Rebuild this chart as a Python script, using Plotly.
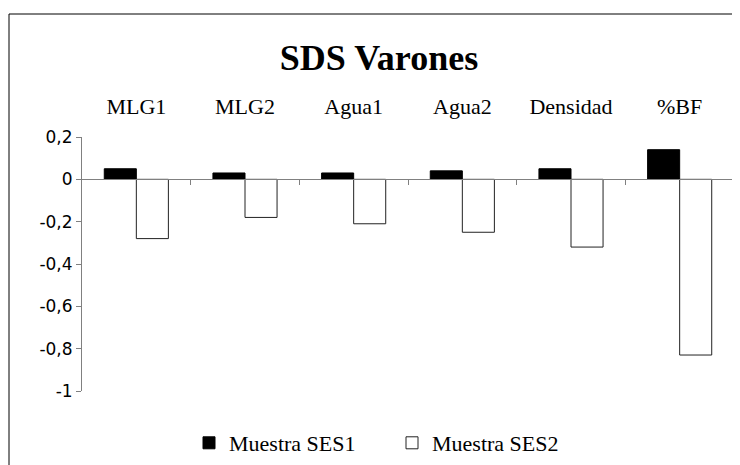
import plotly.graph_objects as go

categories = ["MLG1", "MLG2", "Agua1", "Agua2", "Densidad", "%BF"]
ses1 = [0.05, 0.03, 0.03, 0.04, 0.05, 0.14]
ses2 = [-0.28, -0.18, -0.21, -0.25, -0.32, -0.83]
series_names = ["Muestra SES1", "Muestra SES2"]
y_tickvals = [0.2, 0, -0.2, -0.4, -0.6, -0.8, -1]
y_ticktext = ["0,2", "0", "-0,2", "-0,4", "-0,6", "-0,8", "-1"]
title_text = "SDS Varones"

# page body has an 8px margin; lay out in screen coordinates minus that offset
OFF = 8
VW, VH = 740, 465
W, H = VW - OFF, VH - OFF
plot_l, plot_r, plot_t, plot_b = 82 - OFF, 734 - OFF, 137 - OFF, 391 - OFF
ml, mr, mt, mb = plot_l, W - plot_r, plot_t, H - plot_b
pw = W - ml - mr
ph = H - mt - mb
ymin, ymax = -1.0, 0.2

serif = "Liberation Serif"
sans = "DejaVu Sans"

fig = go.Figure()
fig.add_trace(go.Bar(
    x=categories, y=ses1, name=series_names[0],
    marker=dict(color="#000000", line=dict(color="#000000", width=1)),
))
fig.add_trace(go.Bar(
    x=categories, y=ses2, name=series_names[1],
    marker=dict(color="#ffffff", line=dict(color="#222222", width=1)),
))
# empty helper trace so the zero-line axis (x2) exists
fig.add_trace(go.Scatter(x=[], y=[], xaxis="x2", yaxis="y", showlegend=False,
                         hoverinfo="skip"))

fig.update_layout(
    width=W, height=H, autosize=False,
    margin=dict(l=ml, r=mr, t=mt, b=mb, pad=0, autoexpand=False),
    paper_bgcolor="white", plot_bgcolor="white",
    barmode="group", bargap=0.41, bargroupgap=0,
    title=dict(text=title_text, x=(379 - OFF) / W, xref="container",
               xanchor="center", y=1 - (57 - OFF) / H, yref="container",
               yanchor="middle", automargin=False,
               font=dict(family=serif, size=36, color="black", weight="bold")),
    xaxis=dict(type="category", categoryarray=categories, side="top",
               range=[-0.5, len(categories) - 0.5], automargin=False,
               showline=False, showgrid=False, zeroline=False, ticks="",
               ticklabelstandoff=18,
               tickfont=dict(family=serif, size=22, color="black")),
    xaxis2=dict(overlaying="x", anchor="free",
                position=(0 - ymin) / (ymax - ymin),
                range=[-0.5, len(categories) - 0.5],
                tickvals=[i + 0.5 for i in range(len(categories))],
                showticklabels=False, ticks="outside", ticklen=5,
                tickcolor="#808080", tickwidth=1,
                showline=True, linecolor="#808080", linewidth=1,
                showgrid=False, zeroline=False, side="bottom"),
    yaxis=dict(range=[ymin, ymax], tickvals=y_tickvals, ticktext=y_ticktext,
               showline=True, linecolor="#808080", linewidth=1,
               ticks="outside", ticklen=5, tickcolor="#808080",
               showgrid=False, zeroline=False, automargin=False,
               tickfont=dict(family=sans, size=17, color="black")),
    legend=dict(orientation="h", x=(392 - OFF - ml) / pw, xanchor="center",
                y=(plot_b - (443 - OFF)) / ph, yanchor="middle",
                font=dict(family=serif, size=22, color="black"),
                entrywidth=158, entrywidthmode="pixels",
                bgcolor="rgba(0,0,0,0)"),
    showlegend=True,
    shapes=[dict(type="rect", xref="paper", yref="paper",
                 x0=(9 - OFF - ml) / pw, x1=(W + 10 - ml) / pw,
                 y0=(plot_b - (H + 10)) / ph, y1=(plot_b - (14 - OFF)) / ph,
                 line=dict(color="black", width=1), fillcolor="rgba(0,0,0,0)",
                 layer="below")],
)

fig.write_html("out.html")
